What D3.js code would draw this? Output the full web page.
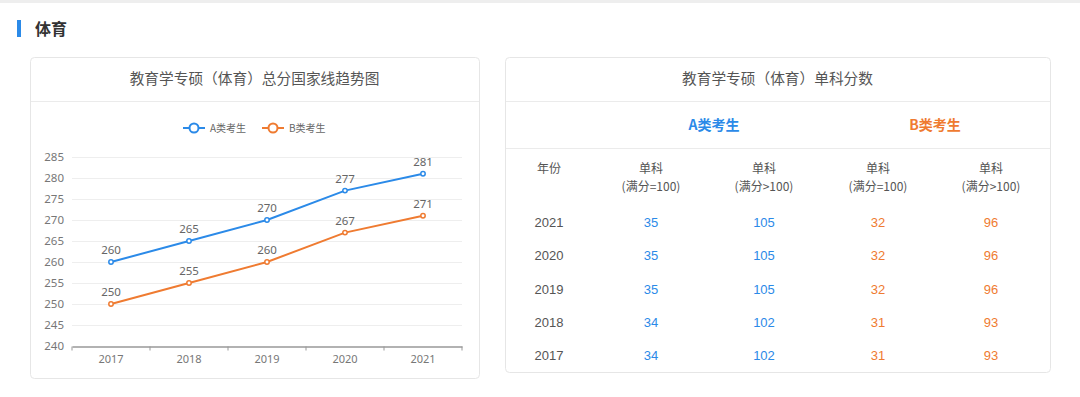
<!DOCTYPE html>
<html>
<head>
<meta charset="utf-8">
<script src="https://cdn.jsdelivr.net/npm/d3@7"></script>
<style>
  body { margin: 0; background: #fff; }
  svg text { font-family: "Noto Sans CJK SC", "Noto Sans", sans-serif; }
</style>
</head>
<body>
<div id="page"></div>
<script>
// data
const years = ["2017", "2018", "2019", "2020", "2021"];
const scoreA = [260, 265, 270, 277, 281];
const scoreB = [250, 255, 260, 267, 271];
const yTicks = [240, 245, 250, 255, 260, 265, 270, 275, 280, 285];

const tableYears = ["2021", "2020", "2019", "2018", "2017"];
const aSingle100 = [35, 35, 35, 34, 34];
const aSingleOver = [105, 105, 105, 102, 102];
const bSingle100 = [32, 32, 32, 31, 31];
const bSingleOver = [96, 96, 96, 93, 93];

const blue = "#2b8ae8";
const orange = "#ef7b31";
const W = 1080, H = 397;

const svg = d3.select("#page").append("svg")
    .attr("width", W).attr("height", H);

// top strip
svg.append("rect").attr("x", 0).attr("y", 0).attr("width", W).attr("height", 3).attr("fill", "#eeeeee");

// section heading
svg.append("rect").attr("x", 17).attr("y", 20).attr("width", 4).attr("height", 17).attr("fill", "#2b8ae8");
svg.append("text").attr("x", 35).attr("y", 35).text("体育")
    .attr("font-size", 16).attr("font-weight", "bold").attr("fill", "#333");

// cards
function card(x, y, w, h, title) {
    const g = svg.append("g");
    g.append("rect").attr("x", x + 0.5).attr("y", y + 0.5).attr("width", w).attr("height", h)
        .attr("rx", 4).attr("fill", "#fff").attr("stroke", "#e6e6e6");
    g.append("line").attr("x1", x + 1).attr("x2", x + w).attr("y1", 101.5).attr("y2", 101.5)
        .attr("stroke", "#ebebeb");
    g.append("text").attr("x", x + w / 2).attr("y", 84).attr("text-anchor", "middle")
        .attr("font-size", 14.7).attr("fill", "#555").text(title);
    return g;
}
card(30, 57, 449, 321, "教育学专硕（体育）总分国家线趋势图");
card(505, 57, 545, 315, "教育学专硕（体育）单科分数");

// line chart
const x = d3.scaleBand().domain(years).range([72, 462]);
const y = d3.scaleLinear().domain([240, 285]).range([346, 157]);
const chart = svg.append("g");

chart.selectAll(".grid").data(yTicks.slice(1)).enter().append("line")
    .attr("x1", 72).attr("x2", 462)
    .attr("y1", d => Math.round(y(d)) + 0.5).attr("y2", d => Math.round(y(d)) + 0.5)
    .attr("stroke", "#eeeeee");

const yAxis = chart.append("g").attr("transform", "translate(72,0)")
    .call(d3.axisLeft(y).tickValues(yTicks).tickSize(0).tickPadding(8));
yAxis.select(".domain").remove();
yAxis.selectAll("text").attr("font-size", 11.5).attr("fill", "#777")
    .style("font-family", "'Noto Sans', sans-serif");

const xAxis = chart.append("g").attr("transform", `translate(0,${Math.round(y(240)) + 0.5})`)
    .call(d3.axisBottom(x).tickSizeOuter(0).tickSizeInner(0).tickPadding(9));
xAxis.select(".domain").attr("stroke", "#999").attr("stroke-width", 1.5);
xAxis.selectAll("text").attr("font-size", 11).attr("fill", "#777")
    .style("font-family", "'Noto Sans', sans-serif");
// boundary ticks
xAxis.selectAll(".btick").data(years.concat(["end"])).enter().append("line")
    .attr("x1", (d, i) => 72 + i * x.step()).attr("x2", (d, i) => 72 + i * x.step())
    .attr("y1", 0).attr("y2", 4).attr("stroke", "#999");

const line = d3.line().x((d, i) => x(years[i]) + x.bandwidth() / 2).y(d => y(d));

[[scoreA, blue], [scoreB, orange]].forEach(([vals, col]) => {
    chart.append("path").datum(vals).attr("d", line).attr("fill", "none")
        .attr("stroke", col).attr("stroke-width", 2);
    chart.selectAll(null).data(vals).enter().append("circle")
        .attr("cx", (d, i) => x(years[i]) + x.bandwidth() / 2).attr("cy", d => y(d))
        .attr("r", 2.2).attr("fill", "#fff").attr("stroke", col).attr("stroke-width", 1.5);
    chart.selectAll(null).data(vals).enter().append("text")
        .attr("x", (d, i) => x(years[i]) + x.bandwidth() / 2).attr("y", d => y(d) - 8)
        .attr("text-anchor", "middle").attr("font-size", 11.5).attr("fill", "#666")
        .style("font-family", "'Noto Sans', sans-serif").text(d => d);
});

// legend
const legend = [["A类考生", blue, 183], ["B类考生", orange, 262]];
legend.forEach(([name, col, lx]) => {
    const g = svg.append("g").attr("transform", `translate(${lx},128)`);
    g.append("line").attr("x1", 0).attr("x2", 22).attr("stroke", col).attr("stroke-width", 2);
    g.append("circle").attr("cx", 11).attr("r", 4.5).attr("fill", "#fff")
        .attr("stroke", col).attr("stroke-width", 2);
    g.append("text").attr("x", 27).attr("y", 4).attr("font-size", 10).attr("fill", "#666").text(name);
});

// table
const table = svg.append("g");
const colX = [549, 651, 764, 878, 991];
table.append("text").attr("x", 714).attr("y", 130).attr("text-anchor", "middle")
    .attr("font-size", 14).attr("font-weight", "bold").attr("fill", blue).text("A类考生");
table.append("text").attr("x", 935).attr("y", 130).attr("text-anchor", "middle")
    .attr("font-size", 14).attr("font-weight", "bold").attr("fill", orange).text("B类考生");
table.append("line").attr("x1", 506).attr("x2", 1050).attr("y1", 148.5).attr("y2", 148.5)
    .attr("stroke", "#ebebeb");

const headers = [["年份", ""], ["单科", "(满分=100)"], ["单科", "(满分>100)"], ["单科", "(满分=100)"], ["单科", "(满分>100)"]];
headers.forEach(([h1, h2], i) => {
    table.append("text").attr("x", colX[i]).attr("y", 173).attr("text-anchor", "middle")
        .attr("font-size", 12).attr("fill", "#555").text(h1);
    if (h2) table.append("text").attr("x", colX[i]).attr("y", 191).attr("text-anchor", "middle")
        .attr("font-size", 12).attr("fill", "#555").text(h2);
});

const rowY = d3.scalePoint().domain(tableYears).range([222, 355]);
const cols = [[tableYears, "#555"], [aSingle100, blue], [aSingleOver, blue], [bSingle100, orange], [bSingleOver, orange]];
cols.forEach(([vals, col], i) => {
    table.selectAll(null).data(vals).enter().append("text")
        .attr("x", colX[i]).attr("y", (d, j) => rowY(tableYears[j]) + 5)
        .attr("text-anchor", "middle").attr("font-size", 13).attr("fill", col)
        .style("font-family", "'Liberation Sans', Arial, sans-serif").text(d => d);
});
</script>
</body>
</html>
